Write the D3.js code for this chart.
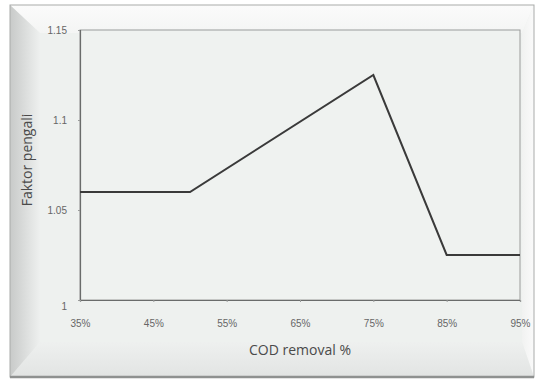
<!DOCTYPE html>
<html>
<head>
<meta charset="utf-8">
<script src="https://cdn.jsdelivr.net/npm/d3@7"></script>
<style>
  body { margin: 0; background: #fff; }
  svg { display: block; }
</style>
</head>
<body>
<div id="chart"></div>
<script>
// data
var removal = [35, 50, 75, 85, 95];          // COD removal %
var faktor = [1.06, 1.06, 1.125, 1.025, 1.025];
var xTicks = [35, 45, 55, 65, 75, 85, 95];
var yTicks = [1, 1.05, 1.1, 1.15];

var W = 536, H = 380;
var margin = {top: 30, right: 16, bottom: 80, left: 80};
var width = W - margin.left - margin.right;
var height = H - margin.top - margin.bottom;

var svg = d3.select("#chart")
    .append("svg")
    .attr("width", W)
    .attr("height", H);

// picture-frame bevel
var defs = svg.append("defs");
function grad(id, x2, y2, c1, c2) {
  var g = defs.append("linearGradient").attr("id", id)
      .attr("x1", 0).attr("y1", 0).attr("x2", x2).attr("y2", y2);
  g.append("stop").attr("offset", "0%").attr("stop-color", c1);
  g.append("stop").attr("offset", "100%").attr("stop-color", c2);
}
grad("gLeft", 1, 0, "#c8cac9", "#eef0ef");
grad("gTop", 0, 1, "#fbfbfb", "#f4f5f4");
grad("gRight", 1, 0, "#f1f2f1", "#fafafa");
grad("gBottom", 0, 1, "#eef0ef", "#e2e4e3");

var o = {x0: 10, y0: 5, x1: 534, y1: 377};
var i = {x0: 40, y0: 33, x1: 522, y1: 342};
var pts = function(a) { return a.map(p => p.join(",")).join(" "); };

svg.append("rect").attr("x", o.x0).attr("y", o.y0)
  .attr("width", o.x1 - o.x0).attr("height", o.y1 - o.y0)
  .attr("fill", "#eef1ef");
svg.append("polygon").attr("fill", "url(#gTop)")
  .attr("points", pts([[o.x0, o.y0], [o.x1, o.y0], [i.x1, i.y0], [i.x0, i.y0]]));
svg.append("polygon").attr("fill", "url(#gRight)")
  .attr("points", pts([[o.x1, o.y0], [o.x1, o.y1], [i.x1, i.y1], [i.x1, i.y0]]));
svg.append("polygon").attr("fill", "url(#gBottom)")
  .attr("points", pts([[o.x0, o.y1], [o.x1, o.y1], [i.x1, i.y1], [i.x0, i.y1]]));
svg.append("polygon").attr("fill", "url(#gLeft)")
  .attr("points", pts([[o.x0, o.y0], [i.x0, i.y0], [i.x0, i.y1], [o.x0, o.y1]]));
svg.append("rect").attr("x", i.x0).attr("y", i.y0)
  .attr("width", i.x1 - i.x0).attr("height", i.y1 - i.y0)
  .attr("fill", "#eef1ef");
svg.append("rect").attr("x", o.x0).attr("y", o.y0)
  .attr("width", o.x1 - o.x0).attr("height", o.y1 - o.y0)
  .attr("fill", "none").attr("stroke", "#a9abaa").attr("stroke-width", 1);
svg.append("line").attr("x1", o.x0).attr("x2", o.x1)
  .attr("y1", o.y1).attr("y2", o.y1)
  .attr("stroke", "#8f9190").attr("stroke-width", 2.5);

var g = svg.append("g")
    .attr("transform", "translate(" + margin.left + "," + margin.top + ")");

var x = d3.scaleLinear().domain([35, 95]).range([0, width]);
var y = d3.scaleLinear().domain([1, 1.15]).range([height, 0]);

// plot area
g.append("rect")
  .attr("width", width).attr("height", height)
  .attr("fill", "#eff2f0")
  .attr("stroke", "#9a9c9b").attr("stroke-width", 1);

var yAxis = g.append("g")
  .call(d3.axisLeft(y).tickValues(yTicks).tickSize(2).tickPadding(11)
    .tickFormat(d => d3.format("")(+d.toFixed(2))));
var xAxis = g.append("g")
  .attr("transform", "translate(0," + height + ")")
  .call(d3.axisBottom(x).tickValues(xTicks).tickSize(2).tickPadding(18)
    .tickFormat(d => d + "%"));

[yAxis, xAxis].forEach(function(ax) {
  ax.select(".domain").attr("stroke", "#6a6c6b").attr("stroke-width", 1.2);
  ax.selectAll(".tick line").attr("stroke", "#9a9c9b");
  ax.selectAll("text")
    .attr("fill", "#666")
    .style("font-family", "'Liberation Sans Narrow', 'Liberation Sans', sans-serif")
    .style("font-size", "10px");
});
yAxis.selectAll(".tick").filter(d => d === 1).select("text").attr("dy", "0.9em");

// the curve
var line = d3.line()
    .x((d, k) => x(removal[k]))
    .y(d => y(d));

g.append("path")
  .attr("fill", "none")
  .attr("stroke", "#3a3a3a")
  .attr("stroke-width", 2)
  .attr("stroke-linejoin", "miter")
  .attr("d", line(faktor));

// axis titles
svg.append("text")
  .attr("x", 300).attr("y", 355)
  .attr("text-anchor", "middle")
  .attr("fill", "#4a4a4a")
  .style("font-family", "'Open Sans', sans-serif")
  .style("font-size", "14px")
  .text("COD removal %");

svg.append("text")
  .attr("transform", "translate(32,160) rotate(-90)")
  .attr("text-anchor", "middle")
  .attr("fill", "#4a4a4a")
  .style("font-family", "'Open Sans', sans-serif")
  .style("font-size", "14px")
  .text("Faktor pengali");
</script>
</body>
</html>
